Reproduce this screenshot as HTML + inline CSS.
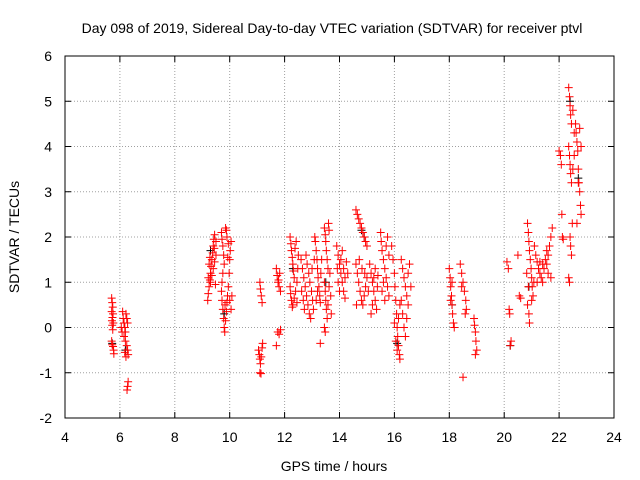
<!DOCTYPE html>
<html><head><meta charset="utf-8"><style>
body{margin:0;background:#fff;}
svg{display:block;font-family:"Liberation Sans",sans-serif;}
</style></head><body>
<svg id="chart" width="640" height="480">
<text x="332" y="33" font-size="14" text-anchor="middle">Day 098 of 2019, Sidereal Day-to-day VTEC variation (SDTVAR) for receiver ptvl</text>
<text x="0" y="0" font-size="14" text-anchor="middle" transform="translate(19,237) rotate(-90)">SDTVAR / TECUs</text>
<text x="334" y="471" font-size="14" text-anchor="middle">GPS time / hours</text>
<g id="grid"></g><g id="ticks"></g><g id="marks"></g>
<rect x="65" y="56" width="549" height="362" fill="none" stroke="#000" stroke-width="1"/>
</svg>
<script>
const xTicks=[4,6,8,10,12,14,16,18,20,22,24];
const yTicks=[-2,-1,0,1,2,3,4,5,6];
const redTimes=[5.70,5.72,5.74,5.70,5.75,5.73,5.71,5.76,5.72,5.74,5.70,5.72,5.75,5.77,5.78,
6.10,6.12,6.15,6.18,6.20,6.22,6.25,6.28,6.15,6.20,6.25,6.28,6.30,6.22,6.18,6.30,6.28,6.26,6.05,6.08,
9.20,9.22,9.25,9.28,9.30,9.32,9.35,9.38,9.40,9.42,9.45,9.30,9.35,9.40,9.45,9.50,9.25,9.28,9.50,9.22,9.48,9.44,
9.70,9.72,9.75,9.78,9.80,9.75,9.72,9.70,9.72,9.75,9.78,9.80,9.82,9.85,9.88,9.90,9.92,9.95,9.98,10.0,10.02,10.05,9.85,9.88,9.90,9.95,10.0,10.05,10.08,9.83,9.93,
11.10,11.12,11.15,11.18,11.05,11.08,11.10,11.12,11.15,11.18,11.1,11.14,11.2,
11.70,11.73,11.76,11.8,11.85,11.78,11.82,11.75,11.8,11.7,11.85,
12.20,12.23,12.25,12.28,12.30,12.32,12.35,12.20,12.22,12.25,12.28,12.30,12.35,12.40,12.45,12.48,12.50,12.42,12.38,12.45,
12.60,12.65,12.7,12.75,12.8,12.85,12.9,12.95,12.62,12.68,12.72,12.78,12.82,12.88,12.92,12.98,13.02,13.05,13.0,13.08,
13.1,13.12,13.15,13.18,13.2,13.22,13.25,13.28,13.3,13.32,13.35,13.3,13.15,13.2,
13.45,13.48,13.5,13.52,13.55,13.58,13.6,13.62,13.45,13.48,13.5,13.52,13.55,13.45,13.48,13.58,13.62,13.65,13.68,13.7,
13.9,13.95,14.0,14.05,14.1,14.15,14.2,13.95,14.0,14.05,14.1,14.15,14.2,14.25,14.3,13.92,
14.6,14.65,14.7,14.75,14.8,14.85,14.9,14.95,15.0,14.6,14.65,14.7,14.75,14.8,14.85,14.9,14.95,15.0,14.62,14.72,14.82,14.92,15.05,
15.1,15.15,15.2,15.25,15.3,15.35,15.15,15.2,15.25,15.3,15.38,15.4,
15.5,15.52,15.55,15.6,15.65,15.7,15.75,15.8,15.55,15.6,15.7,15.75,15.8,15.65,
15.9,15.95,16.0,16.02,16.05,16.08,16.1,16.12,16.15,16.18,16.2,16.1,16.05,16.0,16.15,16.2,
16.25,16.3,16.35,16.4,16.45,16.5,16.3,16.35,16.4,16.45,16.5,16.55,16.6,16.25,
18.0,18.03,18.05,18.08,18.1,18.12,18.15,18.18,18.05,18.1,
18.4,18.45,18.5,18.55,18.6,18.62,18.58,18.45,18.5,
18.9,18.92,18.95,18.97,19.0,18.95,
20.1,20.15,20.18,20.2,20.22,20.25,
20.5,20.55,20.6,
20.85,20.88,20.9,20.92,20.95,20.98,21.0,21.02,21.05,20.85,20.9,20.92,21.0,21.08,20.82,20.88,
21.1,21.15,21.2,21.25,21.3,21.35,21.4,21.45,21.5,21.2,21.3,21.4,
21.55,21.6,21.65,21.7,21.75,21.6,21.7,21.55,
22.05,22.08,22.1,22.12,22.15,22.0,
22.35,22.38,22.4,22.42,22.45,22.35,22.38,22.4,22.42,22.45,22.5,22.55,22.4,22.42,22.45,22.35,22.38,22.5,22.55,22.48,
22.6,22.62,22.65,22.68,22.7,22.72,22.75,22.78,22.8,22.65,22.75,22.8,22.7];
const redValues=[.65,.55,.45,.35,.30,.22,.15,.10,.05,-.05,-.30,-.38,-.42,-.50,-.58,
.35,.2,.1,0,-.1,.3,.2,.1,-.2,-.3,-.4,-.5,-.6,-.65,-.55,-1.2,-1.3,-1.38,0,-.1,
.6,.75,.9,1.05,1.2,1.35,1.5,1.65,1.8,1.95,2.05,1.0,1.15,1.3,1.45,1.6,1.4,1.55,1.9,1.1,.95,1.75,
2.1,1.95,1.8,1.6,1.4,1.2,1.0,.8,.6,.4,.2,0,-.1,.15,.35,.55,.7,.9,1.2,1.5,1.7,1.9,2.2,2.15,2.0,1.85,.6,.4,.7,.5,1.55,
1.0,.85,.7,.55,-.5,-.6,-.7,-.8,-.65,-.45,-1.0,-1.02,-.35,
1.3,1.15,1.0,.9,.8,1.05,1.2,-.1,-.15,-.4,-.05,
2.0,1.85,1.7,1.55,1.4,1.25,1.1,.9,.75,.6,.45,.5,.65,.8,1.0,1.3,1.6,1.9,1.75,.55,
1.5,1.3,1.1,.9,.7,.5,.3,.2,.8,.6,.4,1.6,1.4,1.2,1.0,.8,.6,.4,1.3,1.5,
2.0,1.9,1.7,1.5,1.3,1.1,.9,.7,.55,1.2,1.5,-.35,.6,.8,
2.2,2.05,1.9,1.7,1.5,1.3,2.3,2.15,1.0,.8,.6,.4,.2,0,-.1,.5,.9,1.2,.7,.3,
1.8,1.6,1.4,1.2,1.0,.8,.65,1.0,.8,1.5,1.7,1.3,1.1,1.45,1.2,1.3,
2.6,2.5,2.4,2.3,2.2,2.1,2.0,1.9,1.8,1.4,1.2,1.0,.8,.6,.5,.7,.9,1.1,.5,1.5,1.3,1.2,.8,
1.4,1.2,1.0,.8,.6,.4,.3,.5,1.1,1.3,.9,1.15,
2.1,1.9,1.7,1.5,1.3,1.1,.9,.7,.8,1.0,1.8,2.0,1.6,.6,
1.8,1.5,1.2,.9,.6,.3,0,-.2,-.4,-.6,-.7,-.5,-.3,.1,.2,.5,
1.5,1.3,1.1,.9,.7,.5,.3,0,-.2,.2,1.2,1.4,.9,.6,
1.3,1.1,.9,.7,.5,.3,.1,0,.6,1.0,
1.4,1.2,1.0,.8,.6,.4,.3,.9,-1.1,
.2,.05,-.1,-.3,-.5,-.6,
1.45,1.3,.4,.3,-.4,-.3,
1.6,.7,.65,
2.3,2.1,1.9,1.7,1.5,1.3,1.1,.9,.7,.5,.3,.1,.6,1.0,1.2,.9,
1.8,1.6,1.45,1.3,1.2,1.1,1.0,1.3,1.5,1.0,1.45,1.4,
1.4,1.6,1.8,2.0,2.2,1.2,1.1,1.7,
3.8,3.6,2.5,2.0,1.95,3.9,
5.3,5.1,4.9,4.7,4.5,4.0,3.8,3.6,3.4,3.2,3.5,3.8,2.0,1.8,1.6,1.1,1.0,4.8,4.3,2.3,
4.5,4.3,4.1,3.9,3.5,3.2,3.0,2.7,2.5,2.3,4.4,4.0,3.2];
const blackTimes=[5.72,6.2,9.3,9.8,12.3,13.5,14.8,14.9,16.1,18.1,20.22,20.9,22.4,22.7];
const blackValues=[-.35,-.5,1.7,.3,1.3,1.0,2.15,2.0,-.35,.5,-.4,.9,5.0,3.3];
const X=v=>65+(v-4)*549/20;
const Y=v=>418-(v+2)*362/8;
const NS="http://www.w3.org/2000/svg";
const grid=document.getElementById('grid'),ticks=document.getElementById('ticks'),marks=document.getElementById('marks');
function mk(tag,attrs,parent){const e=document.createElementNS(NS,tag);for(const k in attrs)e.setAttribute(k,attrs[k]);parent.appendChild(e);return e;}
xTicks.forEach(t=>{const x=X(t);
 if(t>4&&t<24){const g=mk('line',{x1:x,x2:x,y1:56,y2:418,stroke:'#a0a0a0','stroke-dasharray':'1,2'},grid);
 
 }
 mk('line',{x1:x,x2:x,y1:418,y2:412,stroke:'#000'},ticks);
 mk('line',{x1:x,x2:x,y1:56,y2:62,stroke:'#000'},ticks);
 const l=mk('text',{x:x,y:442,'font-size':14,'text-anchor':'middle'},ticks);l.textContent=t;
 
 });
yTicks.forEach(t=>{const y=Y(t);
 if(t>-2&&t<6){const g=mk('line',{x1:65,x2:614,y1:y,y2:y,stroke:'#a0a0a0','stroke-dasharray':'1,2'},grid);
 
 }
 mk('line',{x1:65,x2:71,y1:y,y2:y,stroke:'#000'},ticks);
 mk('line',{x1:614,x2:608,y1:y,y2:y,stroke:'#000'},ticks);
 const l=mk('text',{x:52,y:y+5,'font-size':14,'text-anchor':'end'},ticks);l.textContent=t;
 
 });
function plus(t,v,col,name){const x=X(t),y=Y(v);
 const p=mk('path',{d:`M${x-4},${y}h8M${x},${y-4}v8`,stroke:col,'stroke-width':1,fill:'none'},marks);
 
 }
blackTimes.forEach((t,i)=>plus(t,blackValues[i],'#000','point-black'));
redTimes.forEach((t,i)=>plus(t,redValues[i],'#ff0000','point-sdtvar'));
</script>
</body></html>
